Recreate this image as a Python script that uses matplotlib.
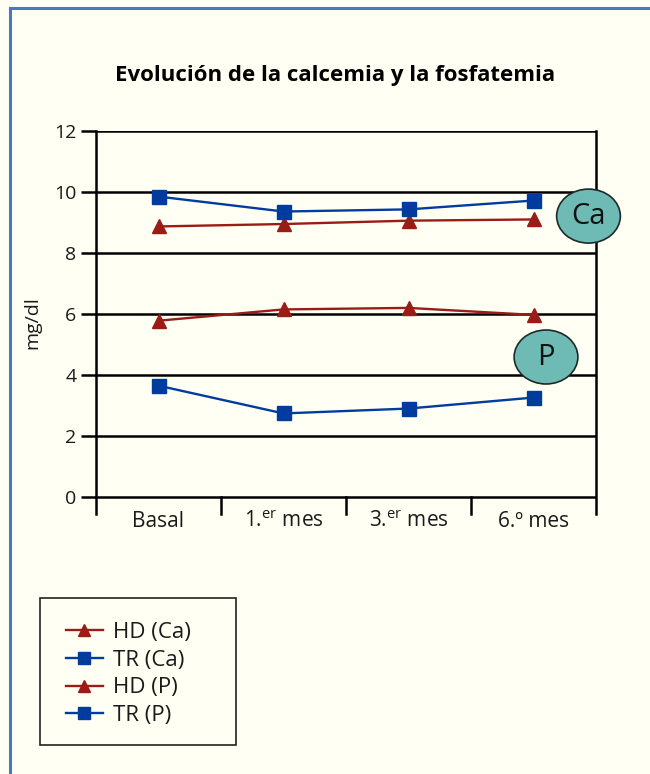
import matplotlib
matplotlib.use("Agg")
import matplotlib.pyplot as plt
from matplotlib.patches import Ellipse, Rectangle

plt.rcParams['font.family'] = ['Open Sans', 'DejaVu Sans']
plt.rcParams['mathtext.fontset'] = 'custom'
plt.rcParams['mathtext.rm'] = 'Open Sans'
plt.rcParams['mathtext.it'] = 'Open Sans'

# ---- data ----
categories = ["Basal", "1.$^{\\mathrm{er}}$ mes", "3.$^{\\mathrm{er}}$ mes", "6.º mes"]
hd_ca = [8.87, 8.95, 9.06, 9.10]
tr_ca = [9.85, 9.36, 9.43, 9.72]
hd_p = [5.78, 6.15, 6.20, 5.97]
tr_p = [3.65, 2.74, 2.90, 3.26]
yticks = [0, 2, 4, 6, 8, 10, 12]
title = "Evolución de la calcemia y la fosfatemia"
ylabel = "mg/dl"
series_labels = ["HD (Ca)", "TR (Ca)", "HD (P)", "TR (P)"]

BG = "#FFFFF3"
RED = "#9A1C17"
BLUE = "#003C9E"
TEAL = "#6DBBB4"
TXT = "#1a1a1a"

W, H = 650, 774
fig = plt.figure(figsize=(6.5, 7.74), dpi=100, facecolor=BG)

# outer blue border (left and top)
fig.add_artist(plt.Line2D([9.5 / W, 9.5 / W], [0, 1 - 8 / H], color="#4A78C0", lw=2.2,
                          transform=fig.transFigure))
fig.add_artist(plt.Line2D([9.5 / W, 1], [1 - 8 / H, 1 - 8 / H], color="#4A78C0", lw=2.2,
                          transform=fig.transFigure))

left, right, top, bottom = 96, 596, 131, 514
ax = fig.add_axes([left / W, 1 - bottom / H, (right - left) / W, (bottom - top) / H])
ax.set_facecolor(BG)

ymin = -(bottom - 497) / ((497 - 131) / 12)
ax.set_xlim(-0.5, 3.5)
ax.set_ylim(ymin, 12)

x = list(range(len(categories)))

# gridlines
for yv in yticks:
    ax.axhline(yv, color="black", lw=1.8, zorder=1)
# category dividers
for xv in [0.5, 1.5, 2.5]:
    ax.plot([xv, xv], [ymin, 0], color="black", lw=1.8, zorder=1, clip_on=False)

for s in ['top', 'bottom']:
    ax.spines[s].set_visible(False)
for s in ['left', 'right']:
    ax.spines[s].set_linewidth(1.8)

ax.set_yticks(yticks)
ax.set_yticklabels([str(v) for v in yticks], fontsize=14, color=TXT)
ax.tick_params(axis='y', length=11, width=1.8, pad=3)
ax.set_xticks(x)
ax.set_xticklabels(categories, fontsize=15, color=TXT)
ax.tick_params(axis='x', length=0, pad=-2)

ax.set_ylabel(ylabel, fontsize=14, color=TXT, labelpad=9)

l1, = ax.plot(x, hd_ca, color=RED, lw=1.7, marker='^', ms=10, label=series_labels[0], zorder=3)
l2, = ax.plot(x, tr_ca, color=BLUE, lw=1.7, marker='s', ms=10, label=series_labels[1], zorder=3)
l3, = ax.plot(x, hd_p, color=RED, lw=1.7, marker='^', ms=10, label=series_labels[2], zorder=3)
l4, = ax.plot(x, tr_p, color=BLUE, lw=1.7, marker='s', ms=10, label=series_labels[3], zorder=3)

# labels Ca and P in ellipses
for (cx, cy, txt) in [(3.44, 9.21, "Ca"), (3.10, 4.59, "P")]:
    e = Ellipse((cx, cy), width=0.51, height=1.77, facecolor=TEAL, edgecolor="#1e2a28",
                lw=1.2, zorder=5, clip_on=False)
    ax.add_patch(e)
    ax.text(cx, cy, txt, ha='center', va='center', fontsize=21, color="#111111",
            zorder=6, clip_on=False)

fig.text(335 / W, 1 - 75 / H, title, ha='center', va='center', fontsize=16,
         fontweight='bold', color="black")

# legend frame
fig.add_artist(Rectangle((40 / W, 1 - 745 / H), (236 - 40) / W, (745 - 598) / H,
                         transform=fig.transFigure, facecolor=BG, edgecolor="#222222",
                         lw=1.2, zorder=0))
leg = fig.legend(handles=[l1, l2, l3, l4], loc='upper left',
                 bbox_to_anchor=(66 / W, 1 - 622 / H), fontsize=16,
                 frameon=False, borderpad=0, handlelength=1.65, handletextpad=0.45,
                 labelspacing=0.3, borderaxespad=0, markerscale=0.9)
for t in leg.get_texts():
    t.set_color(TXT)

fig.savefig("out.png", dpi=100, facecolor=BG)
